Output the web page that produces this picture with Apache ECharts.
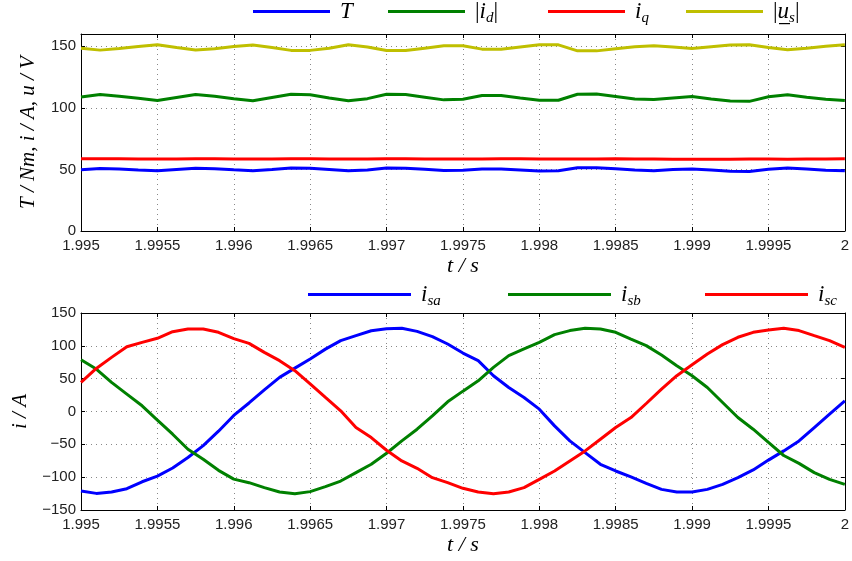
<!DOCTYPE html>
<html>
<head>
<meta charset="utf-8">
<script src="https://cdn.jsdelivr.net/npm/echarts@6/dist/echarts.min.js"></script>
<style>html,body{margin:0;padding:0;background:#fff;}#c{width:852px;height:561px;}</style>
</head>
<body>
<div id="c"></div>
<script>
// ---- data ----
const tTop = [1.995, 1.995125, 1.99525, 1.995375, 1.9955, 1.995625, 1.99575, 1.995875, 1.996, 1.996125,
  1.99625, 1.996375, 1.9965, 1.996625, 1.99675, 1.996875, 1.997, 1.997125, 1.99725, 1.997375,
  1.9975, 1.997625, 1.99775, 1.997875, 1.998, 1.998125, 1.99825, 1.998375, 1.9985, 1.998625,
  1.99875, 1.998875, 1.999, 1.999125, 1.99925, 1.999375, 1.9995, 1.999625, 1.99975, 1.999875, 2.0];
const torque = [49.8, 50.7, 50.3, 49.6, 49.0, 50.0, 51.0, 50.5, 49.7, 49.0,
  50.0, 51.2, 51.0, 50.0, 48.9, 49.6, 51.2, 51.0, 50.1, 49.1,
  49.3, 50.4, 50.4, 49.6, 48.8, 48.9, 51.3, 51.4, 50.5, 49.5,
  49.0, 49.9, 50.4, 49.5, 48.6, 48.4, 50.2, 51.2, 50.3, 49.4, 49.0];
const idAbs = [108.9, 110.8, 109.5, 107.8, 106.0, 108.4, 110.8, 109.5, 107.5, 105.8,
  108.4, 111.0, 110.6, 108.0, 105.8, 107.5, 111.1, 110.8, 108.7, 106.5,
  107.0, 110.0, 110.0, 108.0, 106.2, 106.2, 111.1, 111.3, 109.3, 107.2,
  106.8, 108.0, 109.2, 107.3, 105.5, 105.3, 109.0, 110.6, 108.7, 107.0, 106.0];
const iq = [58.6, 58.7, 58.6, 58.5, 58.4, 58.5, 58.6, 58.6, 58.5, 58.4,
  58.5, 58.6, 58.6, 58.5, 58.4, 58.5, 58.6, 58.6, 58.5, 58.4,
  58.4, 58.5, 58.6, 58.6, 58.5, 58.4, 58.4, 58.5, 58.6, 58.5,
  58.4, 58.3, 58.2, 58.2, 58.3, 58.4, 58.4, 58.3, 58.4, 58.5, 58.6];
const usAbs = [148.5, 146.9, 148.3, 149.8, 151.2, 149.0, 147.0, 148.0, 149.8, 151.0,
  149.0, 146.7, 146.7, 148.5, 151.2, 149.5, 146.6, 146.6, 148.5, 150.4,
  150.4, 147.7, 147.7, 149.5, 151.2, 151.2, 146.3, 146.3, 148.0, 149.6,
  150.4, 149.5, 148.2, 149.7, 151.0, 151.2, 149.0, 147.2, 148.5, 150.0, 151.2];

const tBot = [1.995, 1.9951, 1.9952, 1.9953, 1.9954, 1.9955, 1.9956, 1.9957, 1.9958, 1.9959,
  1.996, 1.9961, 1.9962, 1.9963, 1.9964, 1.9965, 1.9966, 1.9967, 1.9968, 1.9969,
  1.997, 1.9971, 1.9972, 1.9973, 1.9974, 1.9975, 1.9976, 1.9977, 1.9978, 1.9979,
  1.998, 1.9981, 1.9982, 1.9983, 1.9984, 1.9985, 1.9986, 1.9987, 1.9988, 1.9989,
  1.999, 1.9991, 1.9992, 1.9993, 1.9994, 1.9995, 1.9996, 1.9997, 1.9998, 1.9999, 2.0];
const isa = [-121.0, -124.7, -122.6, -117.6, -107.0, -98.5, -86.0, -70.0, -52.0, -30.0,
  -6.0, 13.0, 33.0, 52.0, 66.0, 80.0, 95.0, 107.9, 115.5, 123.0,
  126.0, 126.7, 122.0, 114.0, 102.8, 89.0, 77.4, 54.5, 36.6, 21.4,
  3.6, -21.9, -44.8, -62.6, -80.4, -90.6, -99.7, -109.4, -118.6, -122.6,
  -122.6, -118.6, -110.9, -100.8, -89.0, -74.0, -60.0, -44.8, -24.4, -4.0, 16.3];
const isb = [78.9, 64.6, 44.3, 26.5, 8.7, -13.0, -34.6, -57.5, -72.8, -89.6,
  -103.0, -108.4, -116.0, -122.6, -125.2, -122.0, -114.5, -105.9, -93.1, -80.4,
  -63.6, -44.8, -27.0, -6.6, 14.8, 31.0, 46.8, 67.2, 85.0, 95.2,
  105.3, 117.0, 123.2, 126.7, 125.7, 120.6, 110.4, 100.3, 86.0, 69.7,
  54.5, 36.6, 13.7, -9.2, -27.0, -47.0, -67.0, -79.0, -93.1, -103.3, -111.0];
const isc = [44.3, 65.6, 82.4, 98.7, 105.3, 111.5, 121.6, 125.7, 125.7, 120.6,
  111.0, 103.8, 90.0, 77.4, 62.1, 42.0, 21.4, 1.0, -24.4, -39.7,
  -59.0, -75.3, -86.5, -100.8, -108.4, -117.0, -122.6, -125.2, -122.6, -116.0,
  -103.3, -90.6, -75.3, -60.0, -42.2, -24.4, -9.2, 12.2, 34.1, 54.5,
  71.2, 87.5, 101.8, 113.0, 120.6, 124.2, 126.7, 123.2, 115.5, 107.9, 97.7];

const topNames = ['T', '|i_d|', 'i_q', '|u_s|'];
const botNames = ['i_sa', 'i_sb', 'i_sc'];

// ---- styles ----
const SERIF = 'Liberation Serif';
const SANS = 'Liberation Sans';
const cBlue = '#0000ff', cGreen = '#008000', cRed = '#ff0000', cYel = '#bfbf00';

const rich = {
  sp: {width: 5},
  m: {fontFamily: SERIF, fontStyle: 'italic', fontSize: 23, color: '#000', lineHeight: 28},
  n: {fontFamily: SERIF, fontSize: 23, color: '#000', lineHeight: 28},
  s: {fontFamily: SERIF, fontStyle: 'italic', fontSize: 15, color: '#000', lineHeight: 16, verticalAlign: 'bottom'}
};
const labelRich = {
  'T': '{sp| }{m|T}',
  '|i_d|': '{sp| }{n||}{m|i}{s|d}{n||}',
  'i_q': '{sp| }{m|i}{s|q}',
  '|u_s|': '{sp| }{n||}{m|u}{s|s}{n||}',
  'i_sa': '{sp| }{m|i}{s|sa}',
  'i_sb': '{sp| }{m|i}{s|sb}',
  'i_sc': '{sp| }{m|i}{s|sc}'
};

function xAx(grid, pos, showLabel, name) {
  return {
    type: 'value', gridIndex: grid, position: pos, min: 1.995, max: 2, interval: 0.0005,
    axisLine: {show: true, onZero: false, lineStyle: {color: '#000', width: 1}},
    axisTick: {show: true, inside: true, length: 4, lineStyle: {color: '#000'}},
    axisLabel: {show: showLabel, margin: 7, fontFamily: SANS, fontSize: 15, color: '#222',
      formatter: v => String(+v.toFixed(4))},
    splitLine: {show: showLabel, lineStyle: {color: '#888', type: [1, 4], width: 1}},
    name: name || '', nameLocation: 'middle', nameGap: 24,
    nameTextStyle: {fontFamily: SERIF, fontStyle: 'italic', fontSize: 22, color: '#000'}
  };
}
function yAx(grid, pos, showLabel, min, max, name, gap) {
  return {
    type: 'value', gridIndex: grid, position: pos, min: min, max: max, interval: 50,
    axisLine: {show: true, onZero: false, lineStyle: {color: '#000', width: 1}},
    axisTick: {show: true, inside: true, length: 4, lineStyle: {color: '#000'}},
    axisLabel: {show: showLabel, margin: 5, fontFamily: SANS, fontSize: 15, color: '#222',
      showMaxLabel: max === 150, formatter: v => (v < 0 ? '\u2212' + (-v) : String(v))},
    splitLine: {show: showLabel, lineStyle: {color: '#888', type: [1, 4], width: 1}},
    name: name || '', nameLocation: 'middle', nameGap: gap || 40,
    nameTextStyle: {fontFamily: SERIF, fontStyle: 'italic', fontSize: 21, color: '#000'}
  };
}

function mkLegend(name, left, top, w) {
  return {
    data: [name], left: left, top: top, icon: 'rect', itemWidth: w, itemHeight: 3,
    itemGap: 8, selectedMode: false, padding: 0,
    formatter: n => labelRich[n],
    textStyle: {rich: rich, color: '#000'}
  };
}

const topData = [torque, idAbs, iq, usAbs];
const topColors = [cBlue, cGreen, cRed, cYel];
const botData = [isa, isb, isc];
const botColors = [cBlue, cGreen, cRed];

const series = [];
topNames.forEach((n, k) => series.push({
  name: n, type: 'line', xAxisIndex: 0, yAxisIndex: 0, symbol: 'none', animation: false,
  data: tTop.map((t, i) => [t, topData[k][i]]),
  lineStyle: {color: topColors[k], width: 3}, itemStyle: {color: topColors[k]}
}));
botNames.forEach((n, k) => series.push({
  name: n, type: 'line', xAxisIndex: 2, yAxisIndex: 2, symbol: 'none', animation: false,
  data: tBot.map((t, i) => [t, botData[k][i]]),
  lineStyle: {color: botColors[k], width: 3}, itemStyle: {color: botColors[k]}
}));

const chart = echarts.init(document.getElementById('c'), null, {renderer: 'canvas'});
chart.setOption({
  backgroundColor: '#fff',
  animation: false,
  grid: [
    {left: 81, right: 1, top: 34, height: 197},
    {left: 81, right: 1, top: 313, height: 197}
  ],
  xAxis: [
    xAx(0, 'bottom', true, 't / s'), xAx(0, 'top', false),
    xAx(1, 'bottom', true, 't / s'), xAx(1, 'top', false)
  ],
  yAxis: [
    yAx(0, 'left', true, 0, 160, 'T / Nm, i / A, u / V', 42), yAx(0, 'right', false, 0, 160),
    yAx(1, 'left', true, -150, 150, 'i / A', 48), yAx(1, 'right', false, -150, 150)
  ],
  legend: [
    mkLegend('T', 253, 0, 77),
    mkLegend('|i_d|', 388, 0, 77),
    mkLegend('i_q', 548, 0, 77),
    mkLegend('|u_s|', 686, 0, 77),
    mkLegend('i_sa', 308, 283, 103),
    mkLegend('i_sb', 508, 283, 103),
    mkLegend('i_sc', 705, 283, 103)
  ],
  graphic: [
    {type: 'rect', left: 779, top: 23, shape: {width: 11, height: 1.2}, style: {fill: '#000'}}
  ],
  series: series
});
</script>
</body>
</html>
